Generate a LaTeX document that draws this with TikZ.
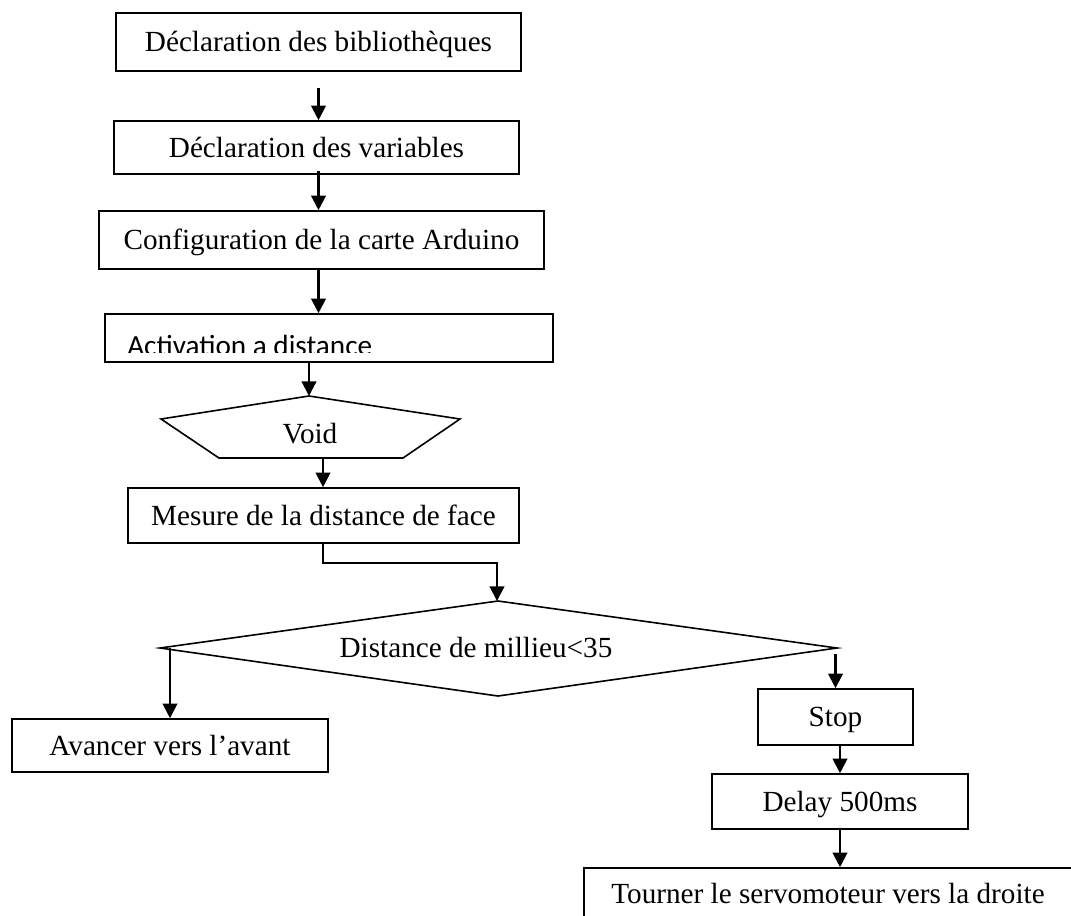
\documentclass[tikz,border=0pt]{standalone}
\usepackage{fontspec}
\setmainfont{Liberation Serif}
\newfontfamily\calib{Carlito}
\usetikzlibrary{arrows.meta,calc}
\begin{document}
\begin{tikzpicture}[x=0.75pt,y=-0.75pt,
  every node/.style={font=\fontsize{21.9}{26}\selectfont, inner sep=0pt},
  pbox/.style 2 args={draw, line width=1.2pt, minimum width=#1*0.75pt, minimum height=#2*0.75pt, text height=15pt, text depth=0.75pt},
  arr/.style={line width=1.6pt, -{Triangle[width=11pt,length=11pt]}},
  shp/.style={line width=1.2pt}]
\useasboundingbox (0,0) rectangle (1071,915);
\begin{scope}
\clip (0,0) rectangle (1071,915);
% boxes
\node[pbox={405}{58}] (b1) at (318.5,42) {Déclaration des bibliothèques};
\node[pbox={405}{53}] (b2) at (316.5,147.5) {Déclaration des variables};
\node[pbox={445}{58}] (b3) at (321.5,240) {Configuration de la carte Arduino};
\node[pbox={448}{48}] (b4) at (329,338) {};
\begin{scope}
\clip (106,315) rectangle (552,352.5);
\node[anchor=base west, font=\calib\fontsize{21.9}{26}\selectfont] (t4) at (127,355) {Activation a distance};
\end{scope}
% void pentagon
\coordinate (vt) at (309,396);
\coordinate (vr) at (460,419);
\coordinate (vbr) at (403,458);
\coordinate (vbl) at (219,458);
\coordinate (vl) at (161,419);
\coordinate (vb) at (323,458);
\draw[shp] (vt) -- (vr) -- (vbr) -- (vbl) -- (vl) -- cycle;
\node[anchor=base] (void) at (310,443) {Void};
\node[pbox={391}{55}] (b5) at (323.5,515.5) {Mesure de la distance de face};
% diamond
\coordinate (dt) at (498,601);
\coordinate (dr) at (837,648);
\coordinate (db) at (498,696);
\coordinate (dl) at (160,648);
\draw[shp] (dt) -- (dr) -- (db) -- (dl) -- cycle;
\node[anchor=base] (dtext) at (476,657) {Distance de millieu<35};
\node[pbox={316}{53}] (av) at (170,745.5) {Avancer vers l’avant};
\node[pbox={155}{56}] (stop) at (835.5,717) {Stop};
\node[pbox={256}{55}] (delay) at (840,801.5) {Delay 500ms};
\node[pbox={488}{51}] (tr) at (828,893.5) {Tourner le servomoteur vers la droite};
% connectors
\draw[arr] ($(b1.south)+(0,16)$) -- (b1.south |- b2.north);
\draw[arr] ($(b2.south -| b1.south)+(0,-4)$) -- (b3.north -| b1.south);
\draw[arr] (b3.south -| b1.south) -- (b4.north -| b1.south);
\draw[arr] (b4.south -| vt) -- (vt);
\draw[arr] (vb) -- (vb |- b5.north);
\draw[line width=1.2pt] (b5.south -| vb) -- ++(0,19) -| ($(dt)+(-1,-20)$);
\draw[arr] ($(dt)+(-1,-20.5)$) -- ($(dt)+(-1,0)$);
\draw[arr] (av.north |- dl) -- (av.north);
\draw[arr] ($(stop.north |- dr)+(0,6)$) -- (stop.north);
\draw[arr] (stop.south -| delay.north) -- (delay.north);
\draw[arr] (delay.south) -- (delay.south |- tr.north);
\end{scope}
\end{tikzpicture}
\end{document}
